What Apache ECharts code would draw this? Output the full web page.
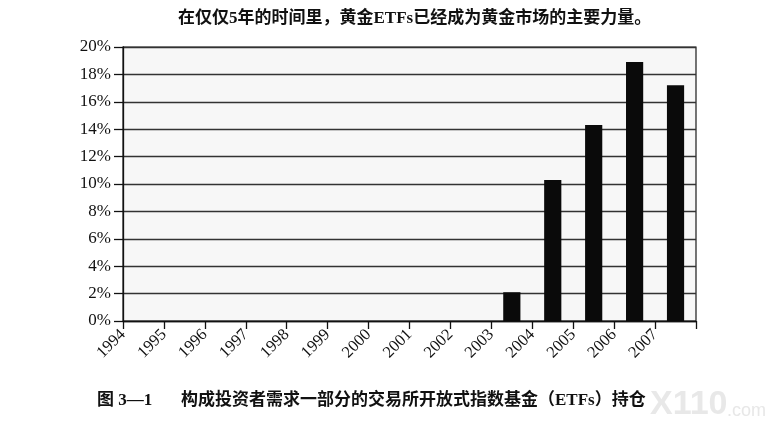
<!DOCTYPE html>
<html>
<head>
<meta charset="utf-8">
<script src="https://cdn.jsdelivr.net/npm/echarts@6/dist/echarts.min.js"></script>
<style>
html,body{margin:0;padding:0;background:#fff;}
#c{width:778px;height:431px;}
</style>
</head>
<body>
<div id="c"></div>
<script>
// Data
var years = ['1994','1995','1996','1997','1998','1999','2000','2001','2002','2003','2004','2005','2006','2007'];
var etfShare = [0, 0, 0, 0, 0, 0, 0, 0, 0, 2.1, 10.3, 14.3, 18.9, 17.2];
var tickLabels = years.concat(['']);
var titleText = '在仅仅5年的时间里，黄金ETFs已经成为黄金市场的主要力量。';
var captionNo = '图 3—1';
var captionText = '构成投资者需求一部分的交易所开放式指数基金（ETFs）持仓';

var serif = "'Liberation Serif', 'DejaVu Serif', 'Noto Sans CJK SC', serif";
var chart = echarts.init(document.getElementById('c'));
chart.setOption({
  animation: false,
  backgroundColor: '#ffffff',
  grid: {
    left: 123, right: 82, top: 47, bottom: 110,
    show: true, backgroundColor: '#f7f7f7', borderColor: '#1a1a1a', borderWidth: 1.2
  },
  xAxis: [{
    type: 'category',
    data: years,
    position: 'bottom',
    boundaryGap: true,
    axisLine: {lineStyle: {color: '#111', width: 1.3}},
    axisTick: {show: true, length: 8, lineStyle: {color: '#111', width: 1.3}},
    axisLabel: {show: false},
    splitLine: {show: false}
  }, {
    type: 'category',
    data: tickLabels,
    position: 'bottom',
    boundaryGap: false,
    axisLine: {show: false},
    axisTick: {show: false},
    axisLabel: {
      show: true, rotate: 45, interval: 0, margin: 11,
      fontFamily: serif, fontSize: 16.5, color: '#111'
    },
    splitLine: {show: false}
  }],
  yAxis: {
    type: 'value',
    min: 0, max: 20, interval: 2,
    axisLine: {show: true, lineStyle: {color: '#111', width: 1.3}},
    axisTick: {show: true, length: 9, lineStyle: {color: '#111', width: 1.3}},
    axisLabel: {formatter: '{value}%', fontFamily: serif, fontSize: 17, color: '#111', margin: 12},
    splitLine: {show: true, lineStyle: {color: '#333', width: 1.3}}
  },
  series: [{
    type: 'bar',
    xAxisIndex: 0,
    data: etfShare,
    barWidth: '42%',
    itemStyle: {color: '#0a0a0a'}
  }],
  graphic: [
    {type: 'text', left: 178, top: 10,
     style: {text: titleText, font: "bold 17px " + serif, fill: '#111'}},
    {type: 'text', left: 97, top: 392,
     style: {text: captionNo, font: "bold 17px " + serif, fill: '#111'}},
    {type: 'text', left: 181, top: 392,
     style: {text: captionText, font: "bold 17px " + serif, fill: '#111'}},
    {type: 'text', left: 650, top: 388,
     style: {text: 'X110', font: "bold 34px 'Liberation Sans', sans-serif", fill: 'rgba(228,228,228,0.85)'}},
    {type: 'text', left: 727, top: 402,
     style: {text: '.com', font: "18px 'Liberation Sans', sans-serif", fill: 'rgba(228,228,228,0.9)'}}
  ]
});
</script>
</body>
</html>
